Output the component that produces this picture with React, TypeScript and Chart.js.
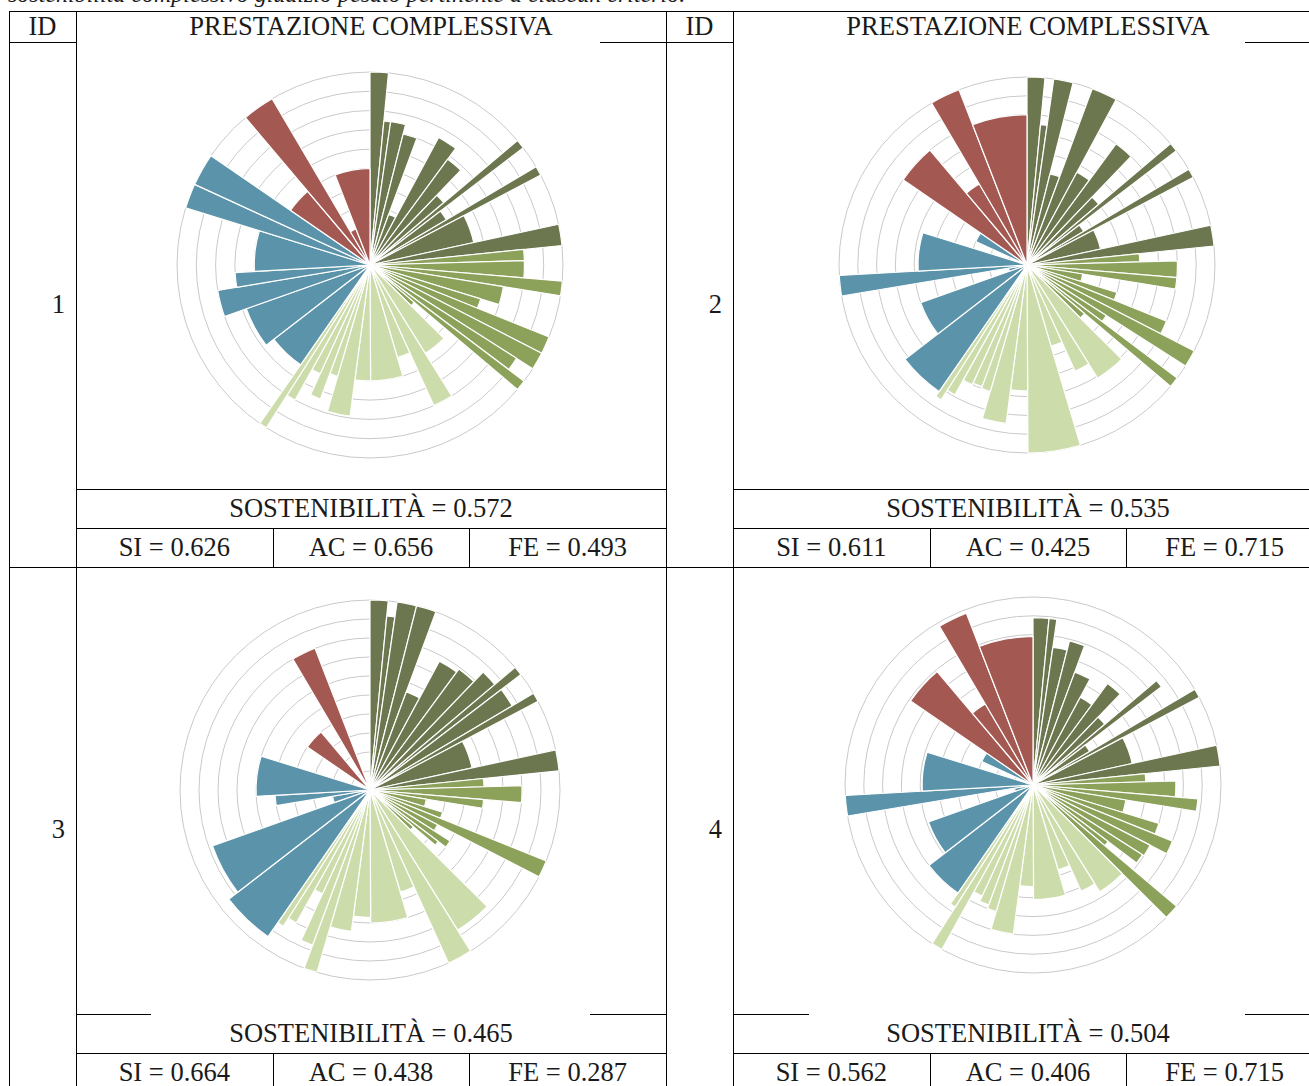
import React, { useEffect, useRef } from "react";
import { Chart, registerables } from "chart.js";

Chart.register(...registerables);

// ---- Data ----
const CRITERIA = [
  "DG1", "DG2", "DG3", "DG4", "DG5", "DG6", "DG7", "DG8", "DG9", "DG10", "DG11", "DG12", "DG13",
  "MG1", "MG2", "MG3", "MG4", "MG5", "MG6", "MG7", "MG8", "MG9", "MG10",
  "LG1", "LG2", "LG3", "LG4", "LG5", "LG6", "LG7", "LG8", "LG9", "LG10", "LG11",
  "B1", "B2", "B3", "B4", "B5", "B6", "B7",
  "R1", "R2", "R3", "R4",
];

const GROUP_SIZES = [13, 10, 11, 7, 4];
const GROUP_COLORS = ["#6c774f", "#8ca15a", "#cddcab", "#5b94aa", "#a35952"];

// angular weight of each criterion, in degrees (sum = 360)
const ANGLES = [
  5.5, 2.7, 6.0, 6.1, 8.0, 8.0, 7.5, 6.0, 2.8, 6.8, 2.8, 15.6, 6.4,
  4.2, 6.4, 4.4, 7.8, 4.9, 5.3, 5.3, 4.5, 3.2, 4.6,
  13.2, 7.6, 7.9, 16.2, 7.8, 8.7, 4.1, 4.3, 4.4, 3.5, 2.3,
  17.5, 18.2, 10.0, 6.3, 20.4, 7.5, 9.8,
  15.3, 9.7, 9.3, 21.2,
];

const VALUES_1 = [
  1.0, 0.75, 0.75, 0.7, 0.28, 0.75, 0.68, 0.5, 1.0, 0.46, 1.0, 0.55, 1.0,
  0.8, 0.8, 1.0, 0.7, 0.6, 1.0, 1.0, 0.9, 1.0, 0.3,
  0.54, 0.8, 0.5, 0.6, 0.6, 0.79, 0.6, 0.74, 0.62, 0.8, 1.0,
  0.63, 0.68, 0.8, 0.7, 0.6, 1.0, 1.0,
  0.5, 1.0, 0.2, 0.5,
];
const VALUES_2 = [
  1.0, 0.75, 1.0, 0.5, 1.0, 0.56, 0.8, 0.5, 1.0, 0.35, 1.0, 0.4, 1.0,
  0.6, 0.8, 0.8, 0.3, 0.5, 0.8, 1.0, 0.5, 1.0, 0.4,
  0.71, 0.62, 0.45, 1.0, 0.67, 0.85, 0.7, 0.69, 0.7, 0.79, 0.85,
  0.82, 0.6, 0.1, 1.0, 0.58, 0.05, 0.3,
  0.8, 0.5, 1.0, 0.8,
];
const VALUES_3 = [
  1.0, 0.92, 1.0, 1.0, 0.55, 0.77, 0.79, 0.86, 1.0, 0.87, 1.0, 0.55, 1.0,
  0.6, 0.8, 0.6, 0.3, 0.4, 1.0, 0.4, 0.5, 0.45, 0.3,
  0.87, 1.0, 0.56, 0.7, 0.67, 0.75, 1.0, 0.87, 0.6, 0.8, 0.85,
  0.94, 0.88, 0.2, 0.5, 0.6, 0.0, 0.0,
  0.4, 0.0, 0.8, 0.0,
];
const VALUES_4 = [
  0.89, 0.89, 0.74, 0.79, 0.64, 0.53, 0.67, 0.5, 0.86, 0.35, 1.0, 0.54, 1.0,
  0.6, 0.76, 0.88, 0.5, 0.7, 0.8, 0.7, 0.69, 0.5, 1.0,
  0.67, 0.62, 0.47, 0.61, 0.54, 0.8, 0.7, 0.68, 0.65, 1.0, 0.77,
  0.7, 0.59, 0.1, 1.0, 0.59, 0.05, 0.3,
  0.79, 0.5, 0.98, 0.79,
];

const IDS = ["1", "2", "3", "4"];
const SOSTENIBILITA = ["0.572", "0.535", "0.465", "0.504"];
const SI = ["0.626", "0.611", "0.664", "0.562"];
const AC = ["0.656", "0.425", "0.438", "0.406"];
const FE = ["0.493", "0.715", "0.287", "0.715"];

const CAPTION = "sostenibilità complessivo giudizio pesato pertinente a ciascun criterio.";

const WEDGE_COLORS: string[] = GROUP_SIZES.flatMap((n, g) => Array(n).fill(GROUP_COLORS[g]));

const FONT = "'Liberation Serif', 'Times New Roman', serif";

type PolarProps = { cx: number; cy: number; r: number; values: number[] };

function Polar({ cx, cy, r, values }: PolarProps) {
  const ref = useRef<HTMLCanvasElement | null>(null);
  const pad = 4;
  const size = 2 * r + 2 * pad;
  useEffect(() => {
    if (!ref.current) return;
    const chart = new Chart(ref.current, {
      type: "polarArea",
      data: {
        labels: CRITERIA,
        datasets: [
          {
            data: values,
            backgroundColor: WEDGE_COLORS,
            borderColor: "#ffffff",
            borderWidth: 1.2,
            angle: ANGLES,
          } as any,
        ],
      },
      options: {
        responsive: false,
        animation: false,
        layout: { padding: pad },
        plugins: { legend: { display: false }, tooltip: { enabled: false } },
        scales: {
          r: {
            min: 0,
            max: 1,
            ticks: { display: false, stepSize: 0.1 },
            grid: { color: "#c9c9c9", lineWidth: 1, circular: true },
            angleLines: { display: false },
            pointLabels: { display: false },
          },
        },
      },
    });
    return () => chart.destroy();
  }, []);
  return (
    <canvas
      ref={ref}
      width={size}
      height={size}
      style={{ position: "absolute", left: cx - r - pad, top: cy - r - pad, width: size, height: size }}
    />
  );
}

function HLine({ x1, x2, y }: { x1: number; x2: number; y: number }) {
  return <div style={{ position: "absolute", left: x1, top: y, width: x2 - x1 + 1, height: 1, background: "#000" }} />;
}
function VLine({ x, y1, y2 }: { x: number; y1: number; y2: number }) {
  return <div style={{ position: "absolute", left: x, top: y1, width: 1, height: y2 - y1 + 1, background: "#000" }} />;
}

function Txt({
  x1, x2, y1, y2, children, align = "center",
}: { x1: number; x2: number; y1: number; y2: number; children: React.ReactNode; align?: string }) {
  return (
    <div
      style={{
        position: "absolute",
        left: x1,
        top: y1,
        width: x2 - x1,
        height: y2 - y1,
        display: "flex",
        alignItems: "center",
        justifyContent: align,
        fontFamily: FONT,
        fontSize: 26.5,
        color: "#1a1a1a",
        whiteSpace: "nowrap",
      }}
    >
      {children}
    </div>
  );
}

export default function App() {
  const blocks = [
    { idx: 0, colX: 9, top: 42, cx: 370, cy: 265, r: 193, values: VALUES_1, gapTop: [76, 600], gapBot: null as null | number[] },
    { idx: 1, colX: 666, top: 42, cx: 1027, cy: 265, r: 188, values: VALUES_2, gapTop: [733, 1245], gapBot: null as null | number[] },
    { idx: 2, colX: 9, top: 567, cx: 370, cy: 790, r: 190, values: VALUES_3, gapTop: null as null | number[], gapBot: [150, 590] },
    { idx: 3, colX: 666, top: 567, cx: 1033, cy: 785, r: 188, values: VALUES_4, gapTop: null as null | number[], gapBot: [808, 1245] },
  ];
  return (
    <div style={{ position: "absolute", left: 0, top: 0, width: 1309, height: 1086, overflow: "hidden", background: "#fff" }}>
      <div
        style={{
          position: "absolute",
          left: 8,
          top: -19,
          fontFamily: FONT,
          fontStyle: "italic",
          fontSize: 24,
          lineHeight: "26px",
          color: "#1a1a1a",
          whiteSpace: "nowrap",
        }}
      >
        {CAPTION}
      </div>

      {/* header */}
      <HLine x1={9} x2={1309} y={11} />
      <HLine x1={9} x2={76} y={42} />
      <HLine x1={600} x2={733} y={42} />
      <HLine x1={1245} x2={1309} y={42} />
      <Txt x1={9} x2={76} y1={11} y2={42}>ID</Txt>
      <Txt x1={76} x2={666} y1={11} y2={42}>PRESTAZIONE COMPLESSIVA</Txt>
      <Txt x1={666} x2={733} y1={11} y2={42}>ID</Txt>
      <Txt x1={733} x2={1323} y1={11} y2={42}>PRESTAZIONE COMPLESSIVA</Txt>

      {[9, 76, 666, 733].map((x) => (
        <VLine key={x} x={x} y1={11} y2={1086} />
      ))}

      {blocks.map((b) => {
        const x0 = b.colX + 67;
        const x3 = x0 + 590;
        const w = 590 / 3;
        const ySos = b.top + 447;
        const ySub = ySos + 39;
        const yEnd = ySub + 39;
        const xr = Math.min(x3, 1309);
        return (
          <React.Fragment key={b.idx}>
            <Txt x1={b.colX} x2={b.colX + 56} y1={b.top} y2={b.top + 525} align="flex-end">{IDS[b.idx]}</Txt>
            <Polar cx={b.cx} cy={b.cy} r={b.r} values={b.values} />
            {b.gapBot ? (
              <>
                <HLine x1={x0} x2={b.gapBot[0]} y={ySos} />
                <HLine x1={b.gapBot[1]} x2={xr} y={ySos} />
              </>
            ) : (
              <HLine x1={x0} x2={xr} y={ySos} />
            )}
            <HLine x1={x0} x2={xr} y={ySub} />
            <HLine x1={b.colX} x2={xr} y={yEnd} />
            <VLine x={Math.round(x0 + w)} y1={ySub} y2={yEnd} />
            <VLine x={Math.round(x0 + 2 * w)} y1={ySub} y2={yEnd} />
            <Txt x1={x0} x2={x3} y1={ySos} y2={ySub}>{"SOSTENIBILITÀ = " + SOSTENIBILITA[b.idx]}</Txt>
            <Txt x1={x0} x2={x0 + w} y1={ySub} y2={yEnd}>{"SI = " + SI[b.idx]}</Txt>
            <Txt x1={x0 + w} x2={x0 + 2 * w} y1={ySub} y2={yEnd}>{"AC = " + AC[b.idx]}</Txt>
            <Txt x1={x0 + 2 * w} x2={x3} y1={ySub} y2={yEnd}>{"FE = " + FE[b.idx]}</Txt>
          </React.Fragment>
        );
      })}
    </div>
  );
}
